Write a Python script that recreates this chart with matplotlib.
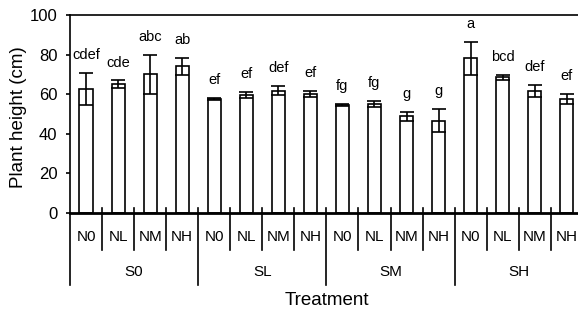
import matplotlib.pyplot as plt
import matplotlib as mpl

mpl.rcParams['font.family'] = ['Liberation Sans', 'DejaVu Sans']

groups = ['S0', 'SL', 'SM', 'SH']
levels = ['N0', 'NL', 'NM', 'NH']
heights = [62.6, 65.0, 70.0, 74.0,
           57.6, 59.5, 61.8, 60.2,
           54.5, 55.0, 48.8, 46.7,
           78.2, 68.5, 61.8, 57.8]
errors = [8.2, 2.0, 9.8, 4.4,
          0.4, 1.5, 2.4, 1.5,
          0.4, 1.5, 2.4, 6.0,
          8.4, 1.2, 3.0, 2.5]
letters = ['cdef', 'cde', 'abc', 'ab',
           'ef', 'ef', 'def', 'ef',
           'fg', 'fg', 'g', 'g',
           'a', 'bcd', 'def', 'ef']

fig = plt.figure(figsize=(5.78, 3.13), dpi=100)
ax = fig.add_axes([70 / 578, 100 / 313, 512.8 / 578, 198 / 313])

n = len(heights)
xs = [i + 0.5 for i in range(n)]
ax.bar(xs, heights, width=0.41, color='white', edgecolor='black', linewidth=1.2,
       yerr=errors, capsize=5, error_kw={'elinewidth': 1.2, 'capthick': 1.2, 'ecolor': 'black'})

for x, h, e, lab in zip(xs, heights, errors, letters):
    ax.text(x, h + e + 9, lab, ha='center', va='center', fontsize=10.5)

ax.set_xlim(0, n)
ax.set_ylim(0, 100)
ax.set_yticks([0, 20, 40, 60, 80, 100])
ax.tick_params(axis='y', direction='out', length=3, width=1.2, labelsize=12, pad=6)
ax.set_xticks([])

ax.spines['bottom'].set_linewidth(2)
ax.spines['left'].set_linewidth(1.2)
ax.spines['top'].set_linewidth(1.2)
ax.spines['right'].set_visible(False)

trans = ax.get_xaxis_transform()
# boundaries between categories: small ticks through the axis, longer lines between groups
for i in range(n + 1):
    if i % len(levels) == 0:
        ax.plot([i, i], [0.025 if i else 0, -0.364], color='black', lw=1.2,
                transform=trans, clip_on=False)
    else:
        ax.plot([i, i], [0.025, -0.187], color='black', lw=1.2,
                transform=trans, clip_on=False)

for i in range(n):
    ax.text(i + 0.5, -0.121, levels[i % len(levels)], ha='center', va='center',
            fontsize=11, transform=trans)
for g, name in enumerate(groups):
    ax.text(g * len(levels) + len(levels) / 2, -0.298, name, ha='center', va='center',
            fontsize=11, transform=trans)

ax.text(0.5, -0.44, 'Treatment', ha='center', va='center', fontsize=13.5,
        transform=ax.transAxes)
fig.text(18.5 / 578, 1 - 117 / 313, 'Plant height (cm)', rotation=90,
         ha='center', va='center', fontsize=13.5)

fig.savefig('out.png', dpi=100)
